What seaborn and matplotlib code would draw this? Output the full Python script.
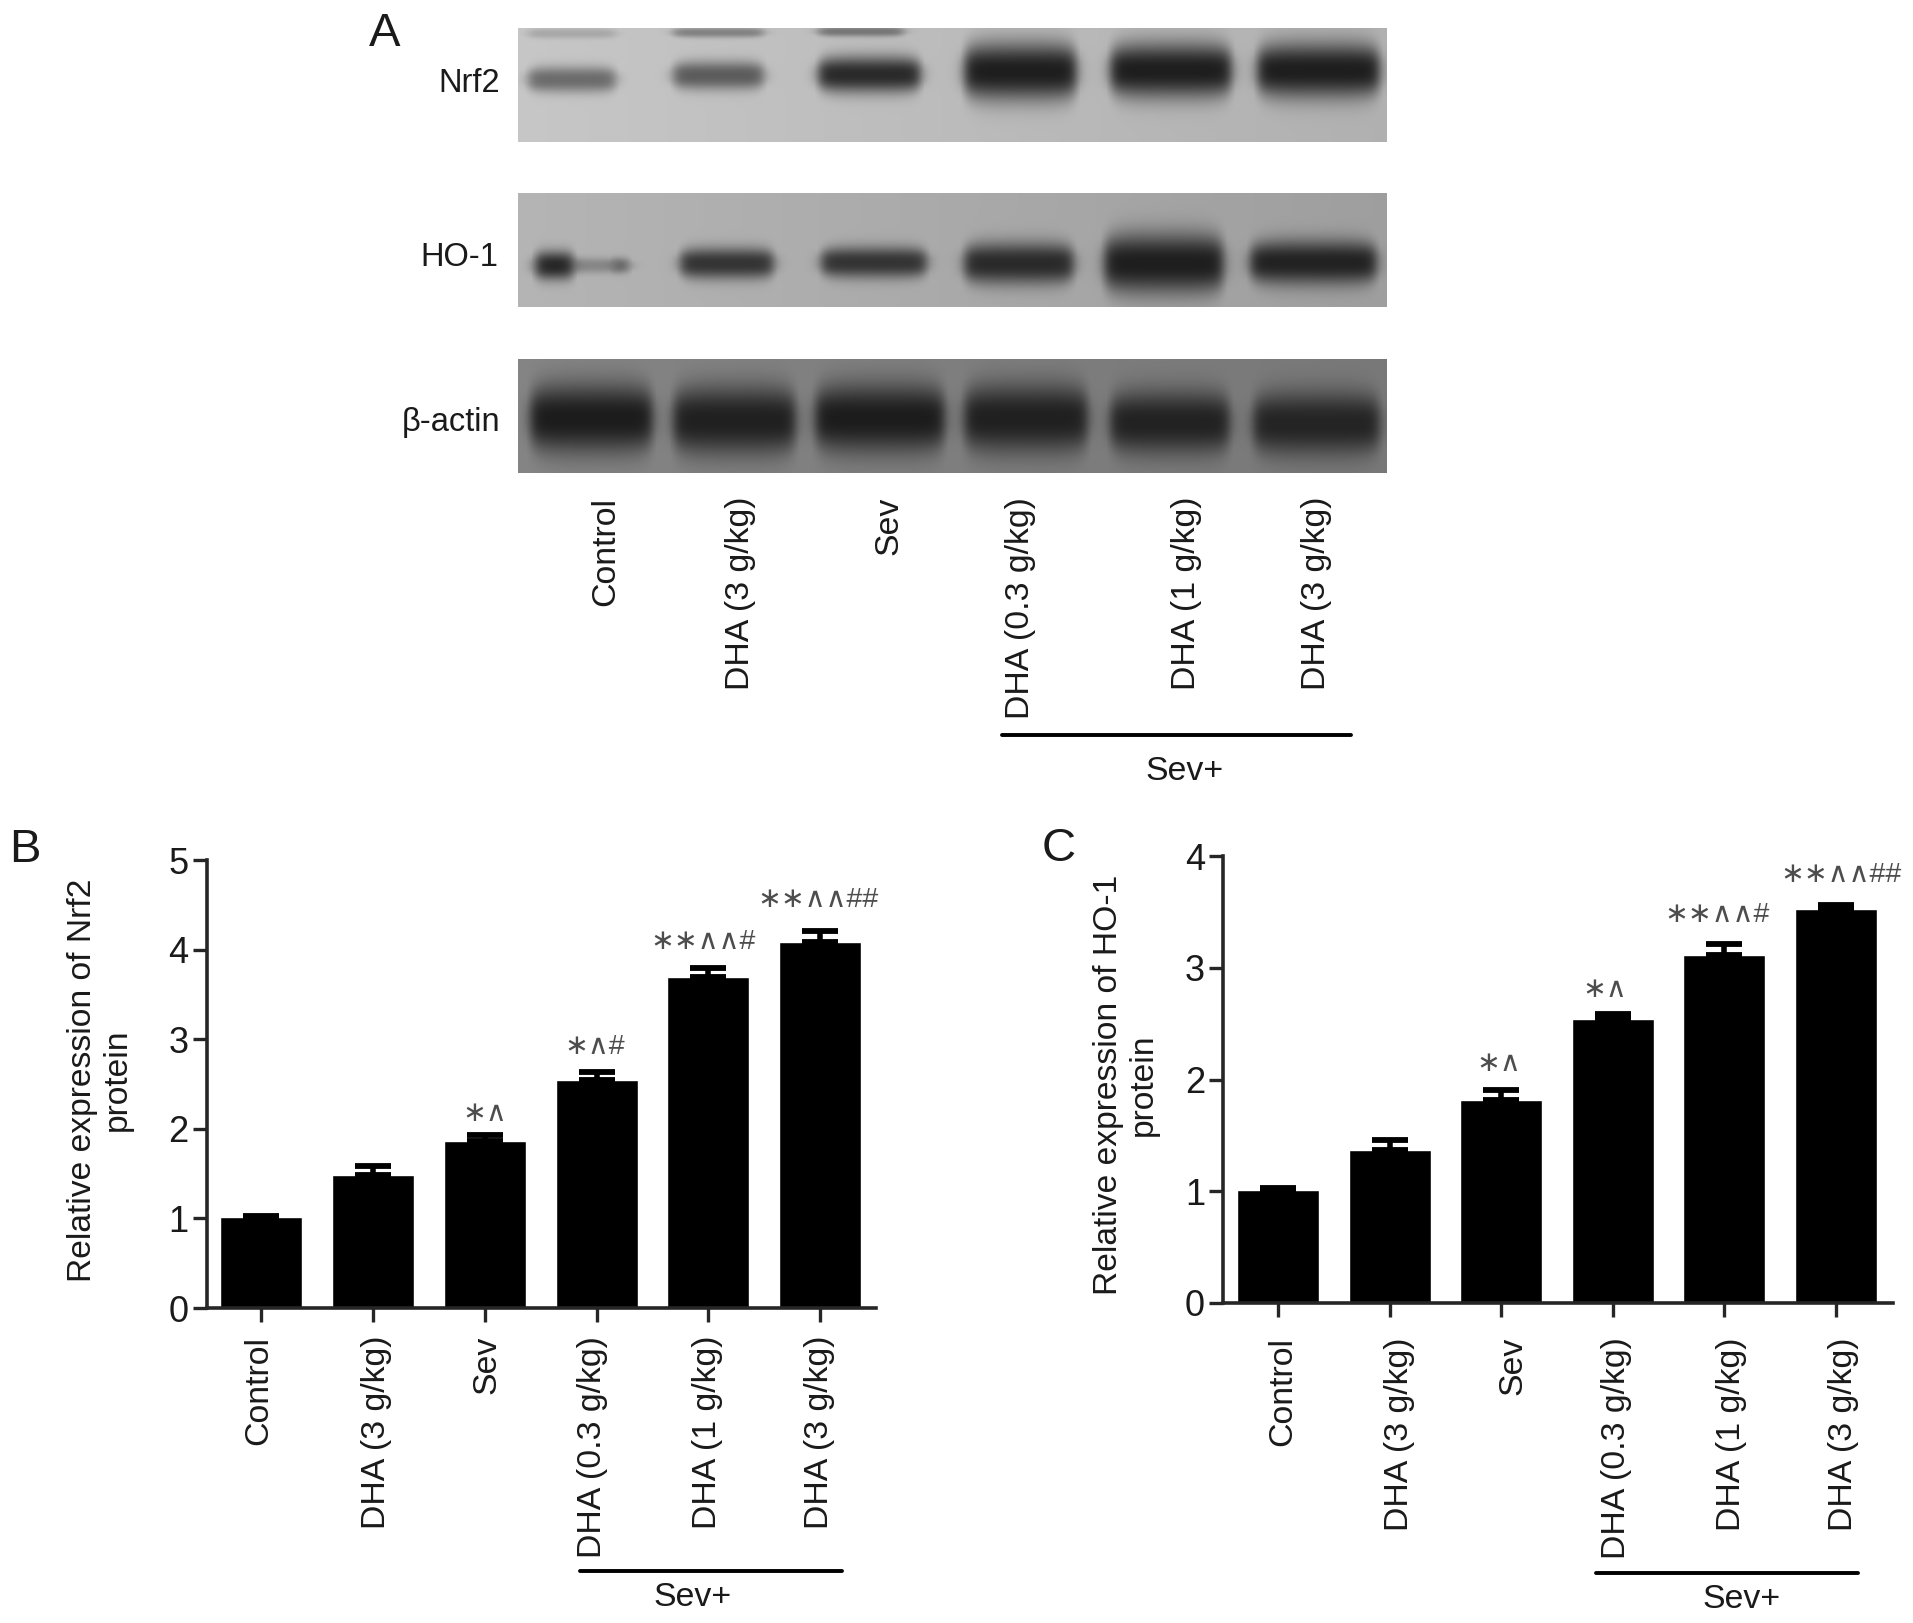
import numpy as np
import pandas as pd
import seaborn as sns
import matplotlib.pyplot as plt
from matplotlib.transforms import ScaledTranslation

W, H = 1913, 1623

#-- data --#
groups = ["Control", "DHA (3 g/kg)", "Sev", "DHA (0.3 g/kg)", "DHA (1 g/kg)", "DHA (3 g/kg)"]
nrf2_mean = [1.02, 1.48, 1.86, 2.55, 3.69, 4.08]
nrf2_err = [0.01, 0.11, 0.07, 0.08, 0.10, 0.13]
ho1_mean = [1.01, 1.37, 1.82, 2.54, 3.11, 3.53]
ho1_err = [0.02, 0.09, 0.09, 0.05, 0.10, 0.03]
nrf2_marks = ["", "", "\u2217\u2227", "\u2217\u2227#", "\u2217\u2217\u2227\u2227#", "\u2217\u2217\u2227\u2227##"]
nrf2_mark_y = [0, 0, 2.17, 2.91, 4.09, 4.55]
ho1_marks = ["", "", "\u2217\u2227", "\u2217\u2227", "\u2217\u2217\u2227\u2227#", "\u2217\u2217\u2227\u2227##"]
ho1_mark_y = [0, 0, 2.14, 2.80, 3.47, 3.83]

#-- western blots: background grey left/right and band darkness per lane --#
blot_names = ["Nrf2", "HO-1", "\u03b2-actin"]
blot_bg = [(198, 176), (180, 158), (132, 120)]
nrf2_bands = [108, 92, 42, 30, 30, 30]
ho1_bands = [135, 52, 52, 42, 30, 34]
actin_bands = [28, 32, 28, 32, 34, 36]
nrf2_faint = [168, 130, 118]
ho1_spots = [38, 95]

#-- band geometry in blot pixels: left, right, centre y, half height --#
nrf2_geo = [(10, 97, 51, 10), (155, 245, 47, 11), (300, 402, 46, 14), (446, 558, 43, 22), (592, 713, 42, 21), (739, 861, 42, 21)]
ho1_geo = [(55, 100, 72, 6), (162, 255, 70, 12), (303, 408, 69, 12), (446, 555, 70, 16), (586, 705, 70, 23), (732, 858, 69, 17)]
actin_geo = [(12, 134, 59, 26), (155, 277, 61, 26), (297, 426, 59, 26), (446, 569, 59, 26), (592, 711, 63, 24), (735, 861, 64, 24)]
nrf2_faint_geo = [(10, 97, 5, 4), (155, 245, 4, 4), (300, 385, 3, 4)]
ho1_spot_geo = [(17, 55, 72, 11), (95, 110, 72, 6)]

#-- tick label nudges in pixels --#
nrf2_label_dx = [-3, 3, 2, -4, -1, -1]
ho1_label_dx = [5, 10, 12, 4, 7, 7]


def px_axes(fig, left, top, right, bottom):
    return fig.add_axes([left / W, 1 - bottom / H, (right - left) / W, (bottom - top) / H])


def px_text(fig, x, y, s, **kw):
    fig.text(x / W, 1 - y / H, s, **kw)


def blot_image(width, height, bg, geo, grey):
    xx, yy = np.meshgrid(np.arange(width), np.arange(height))
    img = np.tile(np.linspace(bg[0], bg[1], width), (height, 1))
    for (l, r, yc, hh), g in zip(geo, grey):
        mid, half = (l + r) / 2, (r - l) / 2 + 4
        across = 1 / (1 + np.exp((l - xx) / 3.5)) / (1 + np.exp((xx - r) / 3.5))
        # band ends taper, like a real lane
        taper = 0.6 + 0.4 * np.sqrt(np.clip(1 - ((xx - mid) / half) ** 4, 0, 1))
        down = np.exp(-np.abs((yy - yc) / (hh * 1.3 * taper)) ** 2.4)
        img = img - (img - g) * across * down
    return img


def draw_bars(fig, box, means, errs, ymax, x_lim, marks, mark_y, mark_x, rule, sev_x, label_dx, label_pad):
    ax = px_axes(fig, *box)
    df = pd.DataFrame({"pos": range(6), "val": means})
    sns.barplot(data=df, x="pos", y="val", color="black", saturation=1, width=0.735, errorbar=None, ax=ax)
    ax.errorbar(df["pos"], means, yerr=[np.zeros(6), errs], fmt="none", ecolor="black",
                elinewidth=4, capsize=13, capthick=4.2, zorder=4)
    ax.set_xlim(*x_lim)
    ax.set_ylim(0, ymax)
    ax.set_yticks(range(ymax + 1))
    ax.set_xticks(range(6))
    ax.set_xticklabels(groups, rotation=90)
    ax.set_xlabel("")
    ax.set_ylabel("")
    ax.tick_params(axis="x", length=10, width=2.4, pad=label_pad, labelsize=24.4)
    ax.tick_params(axis="y", length=10, width=2.4, pad=3, labelsize=26)
    for label, dx in zip(ax.get_xticklabels(), label_dx):
        label.set_transform(label.get_transform() + ScaledTranslation(dx / 100, 0, fig.dpi_scale_trans))
    sns.despine(ax=ax)
    for side in ["left", "bottom"]:
        ax.spines[side].set_linewidth(2.6)
    for s, y, x in zip(marks, mark_y, mark_x):
        if s:
            ax.text(x, y, s, ha="center", va="center", fontsize=20.5, color="#4d4d4d",
                    family=["Liberation Sans", "DejaVu Sans"])
    fig.add_artist(plt.Line2D([rule[0] / W, rule[1] / W], [1 - rule[2] / H] * 2, color="black", lw=2.8))
    px_text(fig, sev_x, rule[2] + 27, "Sev+", ha="center", va="center", fontsize=24.4)
    return ax


sns.set_theme(style="ticks")
plt.rcParams["font.family"] = ["Liberation Sans", "DejaVu Sans"]
plt.rcParams["text.color"] = "#1a1a1a"
plt.rcParams["xtick.labelcolor"] = "#1a1a1a"
plt.rcParams["ytick.labelcolor"] = "#1a1a1a"

fig = plt.figure(figsize=(W / 100, H / 100), dpi=100, facecolor="white")

#-- panel A --#
blot_tops = [28, 193, 359]
blot_h = 114
blot_w = 869
images = [
    blot_image(blot_w, blot_h, blot_bg[0], nrf2_geo + nrf2_faint_geo, nrf2_bands + nrf2_faint),
    blot_image(blot_w, blot_h, blot_bg[1], ho1_geo + ho1_spot_geo, ho1_bands + ho1_spots),
    blot_image(blot_w, blot_h, blot_bg[2], actin_geo, actin_bands),
]
blot_label_y = [83, 258, 422]
blot_label_x = [500, 498, 500]
for img, top, name, ly, lx in zip(images, blot_tops, blot_names, blot_label_y, blot_label_x):
    ax = px_axes(fig, 518, top, 518 + blot_w, top + blot_h)
    sns.heatmap(img, cmap="gray", vmin=0, vmax=255, cbar=False, xticklabels=False, yticklabels=False, ax=ax)
    px_text(fig, lx, ly, name, ha="right", va="center", fontsize=23.5)

lane_label_x = [606, 741, 889, 1021, 1187, 1317]
for x, s in zip(lane_label_x, groups):
    px_text(fig, x, 497, s, rotation=90, ha="center", va="top", fontsize=24.4)
fig.add_artist(plt.Line2D([1002 / W, 1351 / W], [1 - 735 / H] * 2, color="black", lw=2.8))
px_text(fig, 1185, 772, "Sev+", ha="center", va="center", fontsize=24.4)

#-- panels B and C --#
draw_bars(fig, (206.6, 860, 876, 1308), nrf2_mean, nrf2_err, 5, (-0.49, 5.50),
          nrf2_marks, nrf2_mark_y, [0, 1, 2.0, 2.98, 3.95, 4.98], (580, 842, 1571), 693, nrf2_label_dx, 10)
draw_bars(fig, (1223, 856, 1893, 1303), ho1_mean, ho1_err, 4, (-0.493, 5.51),
          ho1_marks, ho1_mark_y, [0, 1, 1.98, 2.93, 3.93, 5.04], (1596, 1858, 1573), 1742, ho1_label_dx, 14.5)

px_text(fig, 100, 1080, "Relative expression of Nrf2\nprotein", rotation=90, ha="center", va="center",
        fontsize=24.2, linespacing=1.15, multialignment="center")
px_text(fig, 1126, 1085, "Relative expression of HO-1\nprotein", rotation=90, ha="center", va="center",
        fontsize=24.2, linespacing=1.15, multialignment="center")

px_text(fig, 385, 34, "A", ha="center", va="center", fontsize=34)
px_text(fig, 25, 850, "B", ha="center", va="center", fontsize=34)
px_text(fig, 1059, 849, "C", ha="center", va="center", fontsize=34)

fig.savefig("out.png", dpi=100)
